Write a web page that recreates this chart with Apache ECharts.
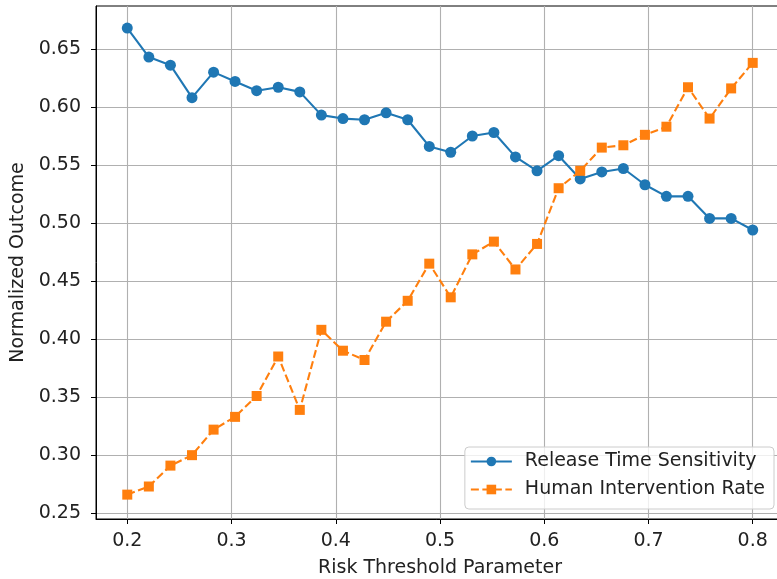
<!DOCTYPE html>
<html>
<head>
<meta charset="utf-8">
<script src="https://cdn.jsdelivr.net/npm/echarts@6/dist/echarts.min.js"></script>
<style>html,body{margin:0;padding:0;background:#fff;}#c{width:777px;height:579px;}</style>
</head>
<body>
<div id="c"></div>
<script>
const xValues = [0.2000, 0.2207, 0.2414, 0.2621, 0.2828, 0.3034, 0.3241, 0.3448, 0.3655, 0.3862,
  0.4069, 0.4276, 0.4483, 0.4690, 0.4897, 0.5103, 0.5310, 0.5517, 0.5724, 0.5931,
  0.6138, 0.6345, 0.6552, 0.6759, 0.6966, 0.7172, 0.7379, 0.7586, 0.7793, 0.8000];
const releaseTime = [0.668, 0.643, 0.636, 0.608, 0.630, 0.622, 0.614, 0.617, 0.613, 0.593,
  0.590, 0.589, 0.595, 0.589, 0.566, 0.561, 0.575, 0.578, 0.557, 0.545,
  0.558, 0.538, 0.544, 0.547, 0.533, 0.523, 0.523, 0.504, 0.504, 0.494];
const humanRate = [0.266, 0.273, 0.291, 0.300, 0.322, 0.333, 0.351, 0.385, 0.339, 0.408,
  0.390, 0.382, 0.415, 0.433, 0.465, 0.436, 0.473, 0.484, 0.460, 0.482,
  0.530, 0.545, 0.565, 0.567, 0.576, 0.583, 0.617, 0.590, 0.616, 0.638];
const xTicks = [0.2, 0.3, 0.4, 0.5, 0.6, 0.7, 0.8];
const yTicks = [0.25, 0.30, 0.35, 0.40, 0.45, 0.50, 0.55, 0.60, 0.65];
const seriesNames = ['Release Time Sensitivity', 'Human Intervention Rate'];

const chart = echarts.init(document.getElementById('c'), null, {renderer: 'canvas'});
const font = 'DejaVu Sans';
const fs = 19;
const txt = '#222';
const pair = (ys) => xValues.map((x, i) => [x, ys[i]]);
chart.setOption({
  animation: false,
  backgroundColor: '#fff',
  textStyle: {fontFamily: font},
  grid: {left: 96, top: 6, width: 688, height: 513, outerBoundsMode: 'none', containLabel: false,
    show: true, borderColor: '#000', borderWidth: 1, backgroundColor: 'transparent'},
  xAxis: {
    type: 'value', min: 0.17, max: 0.83,
    name: 'Risk Threshold Parameter', nameLocation: 'middle', nameGap: 40,
    nameTextStyle: {fontFamily: font, fontSize: fs, color: txt},
    axisLine: {show: true, onZero: false, lineStyle: {color: '#000', width: 1}},
    axisTick: {show: true, length: 5, lineStyle: {color: '#000', width: 1}, customValues: xTicks},
    axisLabel: {customValues: xTicks, fontFamily: font, fontSize: fs, color: txt, margin: 13, formatter: v => v.toFixed(1)},
    splitLine: {show: true, lineStyle: {color: '#b0b0b0', width: 1.1}}
  },
  yAxis: {
    type: 'value', min: 0.245, max: 0.687,
    name: 'Normalized Outcome', nameLocation: 'middle', nameGap: 68,
    nameTextStyle: {fontFamily: font, fontSize: fs, color: txt},
    axisLine: {show: true, onZero: false, lineStyle: {color: '#000', width: 1}},
    axisTick: {show: true, length: 5, lineStyle: {color: '#000', width: 1}, customValues: yTicks},
    axisLabel: {customValues: yTicks, fontFamily: font, fontSize: fs, color: txt, margin: 15, formatter: v => v.toFixed(2)},
    splitLine: {show: true, lineStyle: {color: '#b0b0b0', width: 1.1}}
  },
  legend: {
    orient: 'vertical', right: 3, bottom: 70,
    backgroundColor: 'rgba(255,255,255,0.8)', borderColor: '#cccccc', borderWidth: 1, borderRadius: 4,
    padding: [5, 9, 10, 5], itemGap: 9, itemWidth: 41, itemHeight: 12,
    textStyle: {fontFamily: font, fontSize: fs, color: txt, padding: [0, 0, 0, 8]},
    data: seriesNames
  },
  series: [
    {
      name: seriesNames[0], type: 'line', data: pair(releaseTime),
      symbol: 'circle', symbolSize: 11,
      lineStyle: {color: '#1f77b4', width: 2.1},
      itemStyle: {color: '#1f77b4'}
    },
    {
      name: seriesNames[1], type: 'line', data: pair(humanRate),
      symbol: 'rect', symbolSize: 10,
      lineStyle: {color: '#ff7f0e', width: 2.1, type: [8, 3.5]},
      itemStyle: {color: '#ff7f0e'}
    }
  ]
});
</script>
</body>
</html>
